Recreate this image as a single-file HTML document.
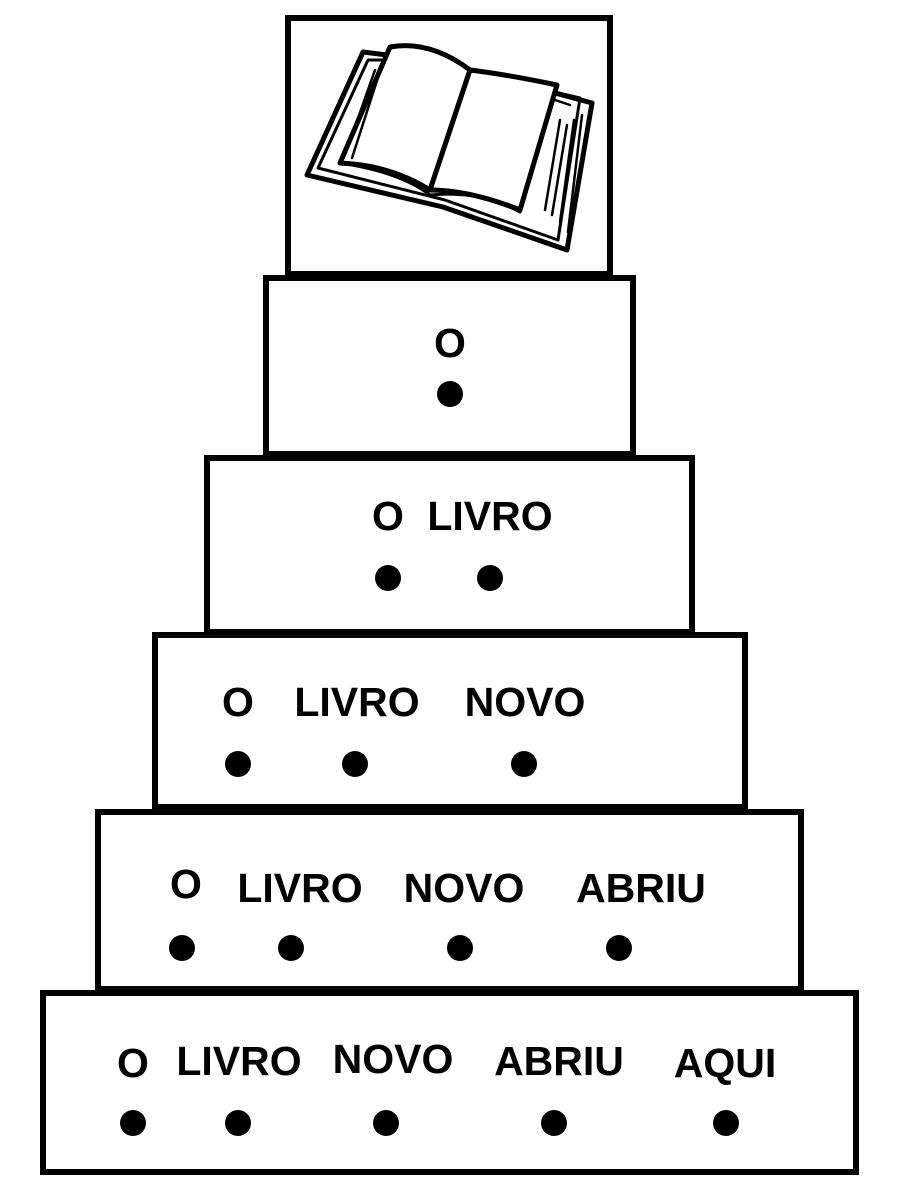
<!DOCTYPE html>
<html><head><style>
html,body{margin:0;padding:0;background:#fff;}
svg{display:block;}
text{font-family:"Liberation Sans",sans-serif;font-weight:bold;font-size:41px;fill:#000;text-anchor:middle;}
</style></head><body>
<svg width="900" height="1200" viewBox="0 0 900 1200">
<g fill="#fff" stroke="#000" stroke-width="6">
<rect x="288" y="18" width="322" height="256"/>
<rect x="266" y="278" width="367" height="176"/>
<rect x="207" y="458" width="485" height="174"/>
<rect x="155" y="635" width="590" height="172"/>
<rect x="98" y="812" width="703" height="177"/>
<rect x="43" y="993" width="813" height="179"/>
</g>
<g fill="#fff" stroke="#000" stroke-width="5" stroke-linejoin="round" stroke-linecap="round">
<path d="M307,175 L363,52 L387,55 L470,70 L592,103 L567,250 L443,207 Z"/>
<path d="M318,168 L368,60 L390,60 L470,72 L580,98 L558,240 L445,200 Z" fill="none" stroke-width="3"/>
<path d="M390,47 Q430,40 470,70 L430,190 Q390,165 340,163 Z"/>
<path d="M470,70 Q510,75 557,85 L520,210 Q470,190 430,190 Z"/>
<path d="M340,163 Q400,172 430,195 Q480,190 520,212" fill="none" stroke-width="3"/>
<path d="M555,100 L570,105 M560,120 L545,210 M567,125 L552,215 M574,120 L560,222 M582,115 L568,232" fill="none" stroke-width="2.5"/>
<path d="M375,70 L345,155 M382,65 L352,158" fill="none" stroke-width="2.5"/>
</g>
<text x="450" y="357">O</text>
<text x="388" y="530">O</text><text x="490" y="530">LIVRO</text>
<text x="238" y="716">O</text><text x="357" y="716">LIVRO</text><text x="525" y="716">NOVO</text>
<text x="186" y="898">O</text><text x="300" y="902">LIVRO</text><text x="464" y="902">NOVO</text><text x="641" y="902">ABRIU</text>
<text x="133" y="1077">O</text><text x="239" y="1075">LIVRO</text><text x="393" y="1073">NOVO</text><text x="559" y="1075">ABRIU</text><text x="725" y="1077">AQUI</text>
<g fill="#000">
<circle cx="450" cy="394" r="13"/>
<circle cx="388" cy="578" r="13"/><circle cx="490" cy="578" r="13"/>
<circle cx="238" cy="764" r="13"/><circle cx="355" cy="764" r="13"/><circle cx="524" cy="764" r="13"/>
<circle cx="182" cy="948" r="13"/><circle cx="291" cy="948" r="13"/><circle cx="460" cy="948" r="13"/><circle cx="619" cy="948" r="13"/>
<circle cx="133" cy="1123" r="13"/><circle cx="238" cy="1123" r="13"/><circle cx="386" cy="1123" r="13"/><circle cx="554" cy="1123" r="13"/><circle cx="726" cy="1123" r="13"/>
</g>
</svg>
</body></html>
